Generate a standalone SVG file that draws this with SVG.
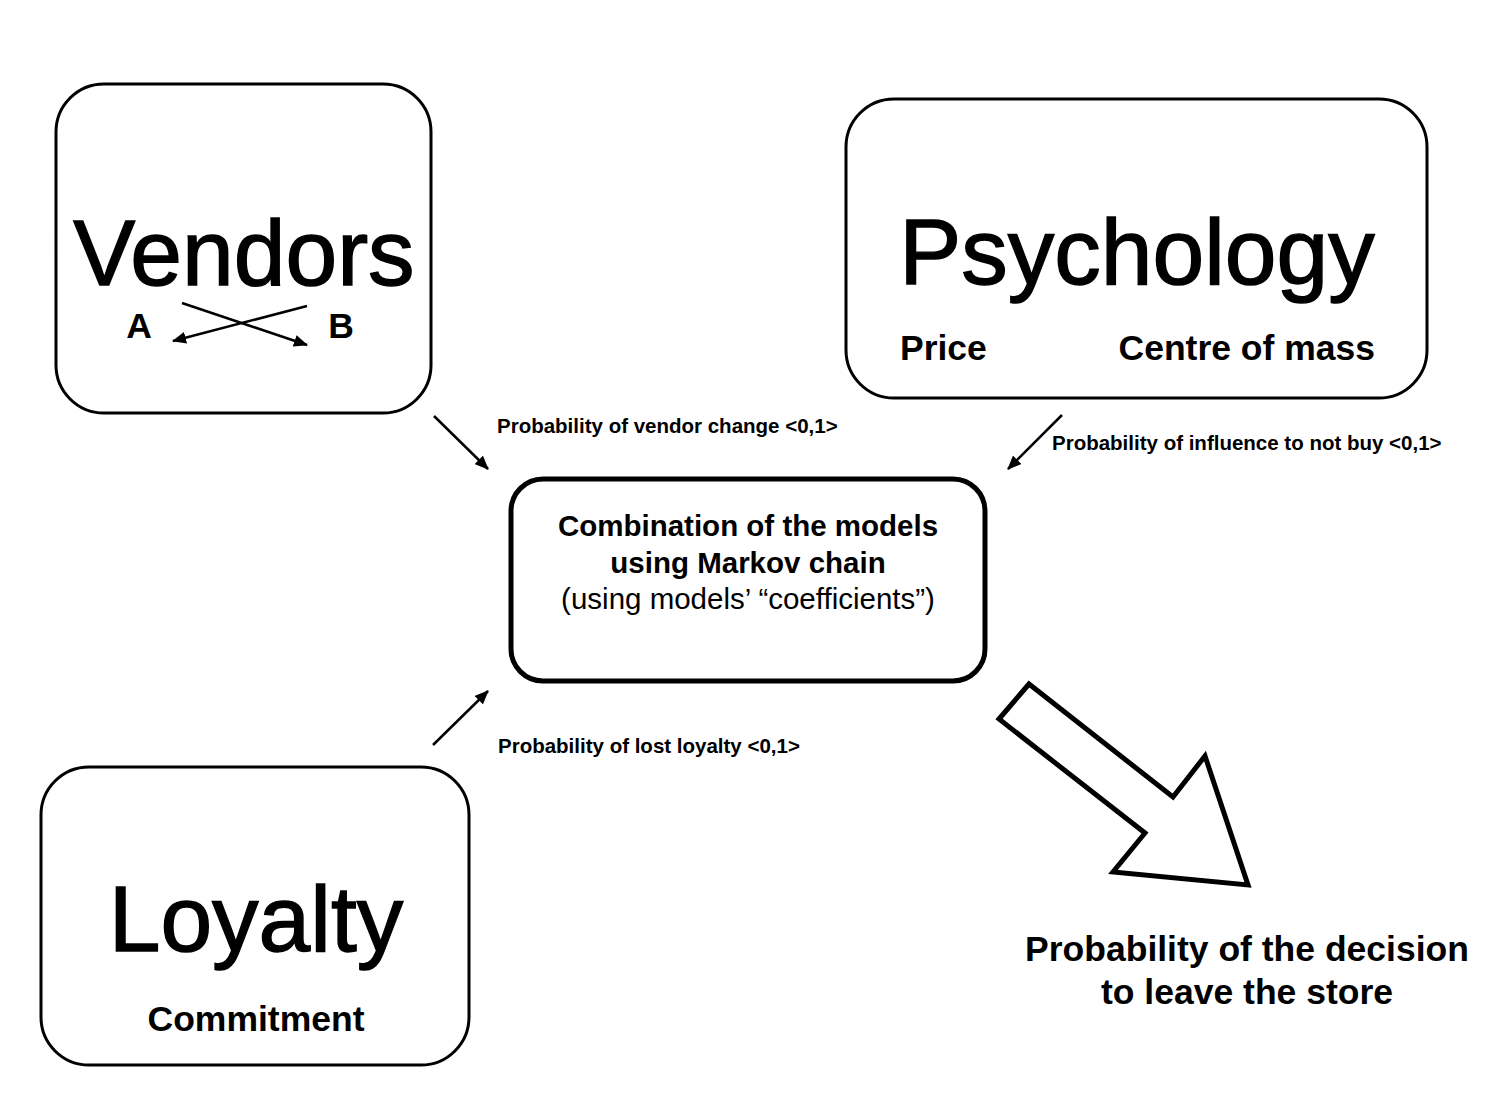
<svg xmlns="http://www.w3.org/2000/svg" width="1490" height="1102" viewBox="0 0 1490 1102">
<style>
.box{fill:#fff;stroke:#000;stroke-width:3}
.big{font-family:"Liberation Sans",Arial,sans-serif;font-size:93px;fill:#000;stroke:#000;stroke-width:1.4;text-anchor:middle}
.sub{font-family:"Liberation Sans",Arial,sans-serif;font-size:35.5px;font-weight:bold;fill:#000}
.lbl{font-family:"Liberation Sans",Arial,sans-serif;font-size:20.5px;font-weight:bold;fill:#000}
.ctr{font-family:"Liberation Sans",Arial,sans-serif;font-size:29.5px;fill:#000;text-anchor:middle}
.conn{stroke:#000;stroke-width:2.5;fill:none}
</style>
<defs>
<marker id="ah" viewBox="0 0 14 12" refX="13" refY="6" markerWidth="14" markerHeight="12" markerUnits="userSpaceOnUse" orient="auto">
<path d="M0,0 L14,6 L0,12 z" fill="#000"/>
</marker>
</defs>
<rect width="1490" height="1102" fill="#fff"/>
<g id="vendors">
<rect class="box" x="56" y="84" width="375" height="329" rx="48"/>
<text class="big" x="244" y="285">Vendors</text>
<text class="sub" x="139" y="338" text-anchor="middle">A</text>
<text class="sub" x="341" y="338" text-anchor="middle">B</text>
<line class="conn" x1="182" y1="303" x2="307" y2="345" marker-end="url(#ah)"/>
<line class="conn" x1="307" y1="306" x2="173" y2="341" marker-end="url(#ah)"/>
</g>
<g id="psychology">
<rect class="box" x="846" y="99" width="581" height="299" rx="48"/>
<text class="big" x="1137" y="284">Psychology</text>
<text class="sub" x="900" y="360">Price</text>
<text class="sub" x="1375" y="360" text-anchor="end">Centre of mass</text>
</g>
<g id="loyalty">
<rect class="box" x="41" y="767" width="428" height="298" rx="48"/>
<text class="big" x="256" y="951">Loyalty</text>
<text class="sub" x="256" y="1031" text-anchor="middle">Commitment</text>
</g>
<g id="combination">
<rect x="511" y="479" width="474" height="202" rx="32" fill="#fff" stroke="#000" stroke-width="5"/>
<text class="ctr" x="748" y="536" font-weight="bold">Combination of the models</text>
<text class="ctr" x="748" y="573" font-weight="bold">using Markov chain</text>
<text class="ctr" x="748" y="609" font-size="31px">(using models’ “coefficients”)</text>
</g>
<g id="result">
<polygon points="1029,684 999,719 1145,833 1113,872 1248,885 1205,756 1173,797" fill="#fff" stroke="#000" stroke-width="5" stroke-linejoin="miter"/>
<text class="sub" x="1247" y="961" text-anchor="middle">Probability of the decision</text>
<text class="sub" x="1247" y="1004" text-anchor="middle">to leave the store</text>
</g>
<g id="connectors">
<line class="conn" x1="434" y1="416" x2="488" y2="469" marker-end="url(#ah)"/>
<line class="conn" x1="1062" y1="415" x2="1008" y2="469" marker-end="url(#ah)"/>
<line class="conn" x1="433" y1="745" x2="488" y2="691" marker-end="url(#ah)"/>
<text class="lbl" x="497" y="433">Probability of vendor change &lt;0,1&gt;</text>
<text class="lbl" x="1052" y="450">Probability of influence to not buy &lt;0,1&gt;</text>
<text class="lbl" x="498" y="753">Probability of lost loyalty &lt;0,1&gt;</text>
</g>
</svg>
